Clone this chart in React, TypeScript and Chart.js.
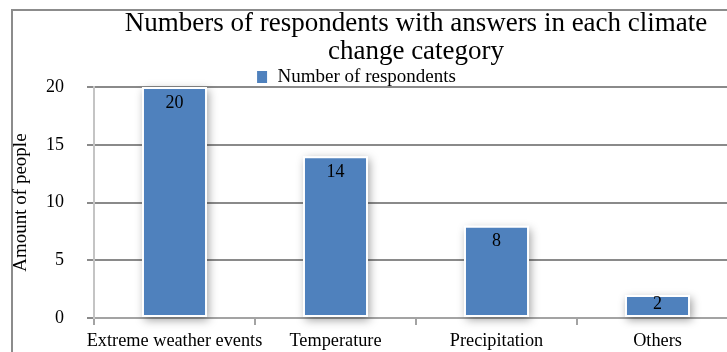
import React, { useEffect, useRef } from "react";
import { Chart, registerables } from "chart.js";

Chart.register(...registerables);

const categories = ["Extreme weather events", "Temperature", "Precipitation", "Others"];
const respondents = [20, 14, 8, 2];
const seriesName = "Number of respondents";
const chartTitle = ["Numbers of respondents with answers in each climate", "change category"];
const yAxisTitle = "Amount of people";

const FONT = '"Liberation Serif", "Times New Roman", serif';
const BAR_BLUE = "#4f81bd";

// soft drop shadow underneath each bar
const barShadow = {
  id: "barShadow",
  beforeDatasetsDraw(chart: any) {
    const { ctx } = chart;
    const meta = chart.getDatasetMeta(0);
    ctx.save();
    ctx.shadowColor = "rgba(0,0,0,0.38)";
    ctx.shadowBlur = 9;
    ctx.shadowOffsetX = 2;
    ctx.shadowOffsetY = 3;
    ctx.fillStyle = "#ffffff";
    meta.data.forEach((bar: any) => {
      const { x, y, base, width } = bar.getProps(["x", "y", "base", "width"], true);
      ctx.fillRect(x - width / 2, y, width, base - y);
    });
    ctx.restore();
  },
};

// value printed inside the top end of each bar
const valueLabels = {
  id: "valueLabels",
  afterDatasetsDraw(chart: any) {
    const { ctx } = chart;
    const meta = chart.getDatasetMeta(0);
    const values = chart.data.datasets[0].data;
    ctx.save();
    ctx.font = `18px ${FONT}`;
    ctx.fillStyle = "#000000";
    ctx.textAlign = "center";
    ctx.textBaseline = "middle";
    meta.data.forEach((bar: any, i: number) => {
      const { x, y, base } = bar.getProps(["x", "y", "base"], true);
      const h = base - y;
      const off = Math.min(16, h / 2 - 1.5);
      ctx.fillText(String(values[i]), x, y + off);
    });
    ctx.restore();
  },
};

// legend sits a little left of centre
const legendShift = {
  id: "legendShift",
  afterLayout(chart: any) {
    const lg = chart.legend;
    if (lg) {
      lg.left -= 60;
      lg.right -= 60;
    }
  },
};

// tick labels may overhang the plot area; no extra room is reserved for them
const noScalePadding = (scale: any) => {
  scale.paddingTop = 0;
  scale.paddingBottom = 0;
  scale.paddingLeft = 0;
  scale.paddingRight = 0;
};

export default function App() {
  const canvasRef = useRef<HTMLCanvasElement | null>(null);

  useEffect(() => {
    const canvas = canvasRef.current;
    if (!canvas) return;
    const chart = new Chart(canvas, {
      type: "bar",
      data: {
        labels: categories,
        datasets: [
          {
            label: seriesName,
            data: respondents,
            backgroundColor: BAR_BLUE,
            borderColor: "#ffffff",
            borderWidth: 2,
            borderSkipped: false,
            barPercentage: 0.404,
            categoryPercentage: 1,
          },
        ],
      },
      options: {
        responsive: false,
        animation: false,
        layout: { padding: { left: 0, right: 42, top: 0, bottom: 0 } },
        plugins: {
          title: {
            display: true,
            text: chartTitle,
            fullSize: false,
            color: "#000000",
            font: { family: FONT, size: 27, weight: "normal", lineHeight: 1.048 },
            padding: { top: 9.5, bottom: 0 },
          },
          legend: {
            display: true,
            position: "top",
            fullSize: false,
            maxHeight: 21,
            labels: {
              color: "#000000",
              boxWidth: 12,
              boxHeight: 14,
              padding: 1.5,
              font: { family: FONT, size: 19 },
            },
          },
          tooltip: { enabled: false },
        },
        scales: {
          x: {
            offset: true,
            grid: {
              display: true,
              offset: true,
              drawOnChartArea: false,
              drawTicks: true,
              tickLength: 7,
              color: "#a3a3a3",
              lineWidth: 2,
            },
            border: { display: true, color: "#a3a3a3", width: 2 },
            ticks: {
              color: "#000000",
              font: { family: FONT, size: 18.3 },
              padding: 5,
              maxRotation: 0,
              autoSkip: false,
            },
            afterFit(scale: any) {
              scale.height = 42;
              noScalePadding(scale);
            },
          },
          y: {
            min: 0,
            max: 20,
            ticks: {
              stepSize: 5,
              color: "#000000",
              font: { family: FONT, size: 18 },
              padding: 23,
            },
            grid: {
              color: "#8a8a8a",
              lineWidth: 2,
              tickLength: 7,
            },
            border: { display: true, color: "#c4c4c4", width: 2 },
            title: {
              display: true,
              text: yAxisTitle,
              color: "#000000",
              font: { family: FONT, size: 19, lineHeight: 1.2 },
              padding: { top: 10, bottom: 0 },
            },
            afterFit(scale: any) {
              scale.width = 94;
              noScalePadding(scale);
            },
          },
        },
      },
      plugins: [barShadow, valueLabels, legendShift],
    });
    return () => chart.destroy();
  }, []);

  return (
    <div
      style={{
        position: "fixed",
        left: 0,
        top: 0,
        width: 727,
        height: 352,
        overflow: "hidden",
        background: "#ffffff",
      }}
    >
      <div
        style={{
          position: "absolute",
          left: 11,
          top: 9,
          width: 900,
          height: 400,
          border: "2px solid #8c8c8c",
          boxSizing: "border-box",
        }}
      />
      <canvas
        ref={canvasRef}
        width={780}
        height={360}
        style={{ position: "absolute", left: 0, top: 0, display: "block" }}
      />
    </div>
  );
}
